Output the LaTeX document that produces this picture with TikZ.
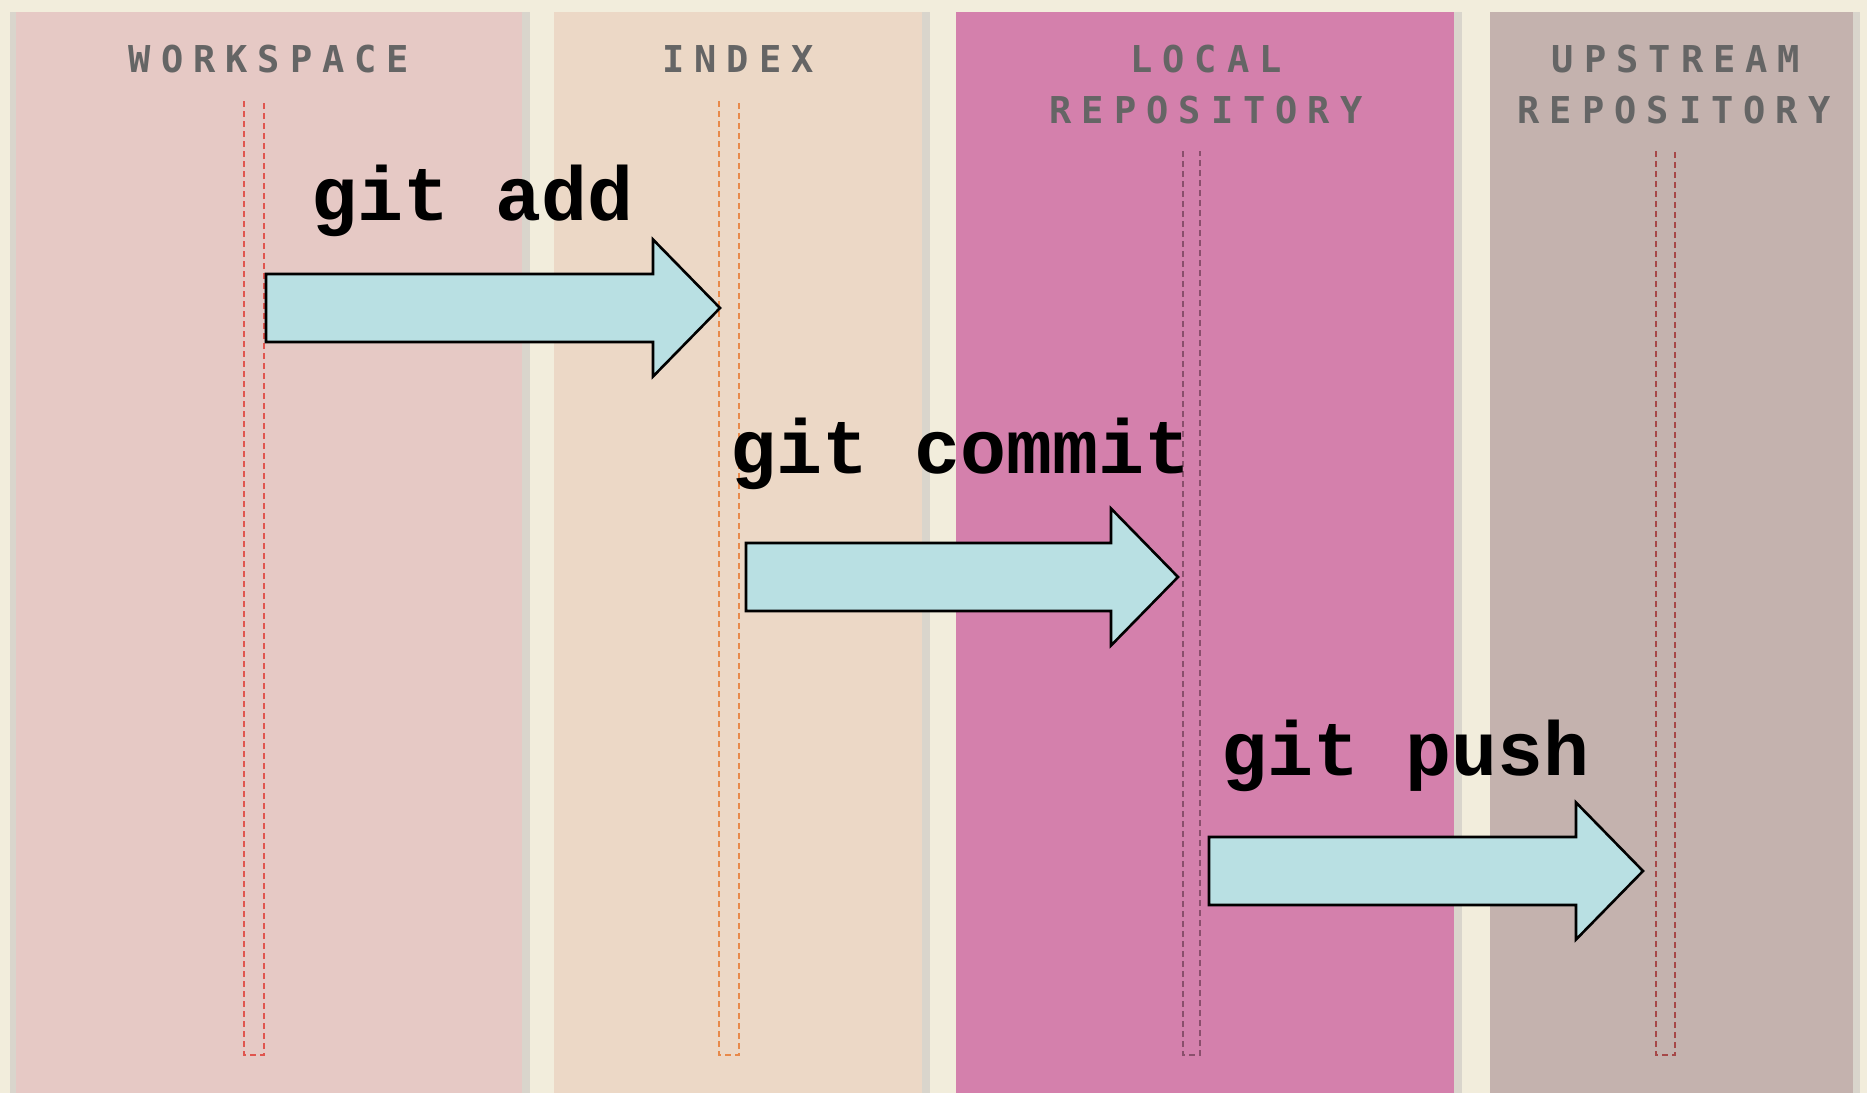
\documentclass[tikz,border=0pt]{standalone}
\usepackage{fontspec}
\newfontfamily\hdrfont[LetterSpace=27]{DejaVu Sans Mono}
\newfontfamily\cmdfont{Liberation Mono}
\definecolor{cream}{HTML}{F2EDDC}
\definecolor{shadowgrey}{HTML}{D9D5CC}
\definecolor{wsfill}{HTML}{E6C9C5}
\definecolor{ixfill}{HTML}{ECD8C6}
\definecolor{lrfill}{HTML}{D480AC}
\definecolor{upfill}{HTML}{C4B2AE}
\definecolor{arrowfill}{HTML}{B9E0E3}
\definecolor{hdrgrey}{HTML}{656565}
\definecolor{wsline}{HTML}{E0554F}
\definecolor{ixline}{HTML}{E8894A}
\definecolor{lrline}{HTML}{8A4F6C}
\definecolor{upline}{HTML}{A64848}
\tikzset{
  panel/.style={draw=none},
  hdr/.style={font=\hdrfont\bfseries\fontsize{18.5pt}{20pt}\selectfont, text=hdrgrey, anchor=base, inner sep=0pt},
  cmd/.style={font=\cmdfont\bfseries\fontsize{38.3pt}{40pt}\selectfont, text=black, anchor=base west, inner sep=0pt},
  lane/.style={dashed, dash pattern=on 3pt off 2pt, line width=0.7pt},
  blockarrow/.style={fill=arrowfill, draw=black, line width=1.3pt, line join=miter},
  gitarrow/.pic={
    \path[blockarrow] (0,-34) -- (#1-67,-34) -- (#1-67,-68.5) -- (#1,0)
      -- (#1-67,68.5) -- (#1-67,34) -- (0,34) -- cycle;
  }
}
\begin{document}
\begin{tikzpicture}[x=0.5pt,y=-0.5pt]
\useasboundingbox (0,0) rectangle (1867,1093);
\fill[cream] (0,0) rectangle (1867,1093);
% shadows
\fill[shadowgrey] (10,12) rectangle (16,1093);
\fill[shadowgrey] (522,12) rectangle (530,1093);
\fill[shadowgrey] (922,12) rectangle (930,1093);
\fill[shadowgrey] (1454,12) rectangle (1462,1093);
\fill[shadowgrey] (1853,12) rectangle (1860,1093);
% panels
\fill[wsfill] (16,12) rectangle (522,1093);
\fill[ixfill] (554,12) rectangle (922,1093);
\fill[lrfill] (956,12) rectangle (1454,1093);
\fill[upfill] (1490,12) rectangle (1853,1093);
% headers
\node[hdr] (ws) at (269,72) {WORKSPACE\hspace{-5pt}};
\node[hdr] (ix) at (738,72) {INDEX\hspace{-5pt}};
\node[hdr] (lr1) at (1206,72) {LOCAL\hspace{-5pt}};
\node[hdr] (lr2) at (1206,123) {REPOSITORY\hspace{-5pt}};
\node[hdr] (up1) at (1676,72) {UPSTREAM\hspace{-5pt}};
\node[hdr] (up2) at (1674,123) {REPOSITORY\hspace{-5pt}};
% dashed lanes
\draw[lane, wsline] (244,101) -- (244,1055) -- (264,1055) -- (264,101);
\draw[lane, ixline] (719,101) -- (719,1055) -- (739,1055) -- (739,101);
\draw[lane, lrline] (1183,151) -- (1183,1055) -- (1200,1055) -- (1200,151);
\draw[lane, upline] (1656,151) -- (1656,1055) -- (1675,1055) -- (1675,151);
% arrows
\pic at (266,308) {gitarrow=454};
\pic at (746,577) {gitarrow=432};
\pic at (1209,871) {gitarrow=434};
% commands
\node[cmd] (add) at (311,220) {git add};
\node[cmd] (commit) at (730,473) {git commit};
\node[cmd] (push) at (1221,775) {git push};
\end{tikzpicture}
\end{document}
